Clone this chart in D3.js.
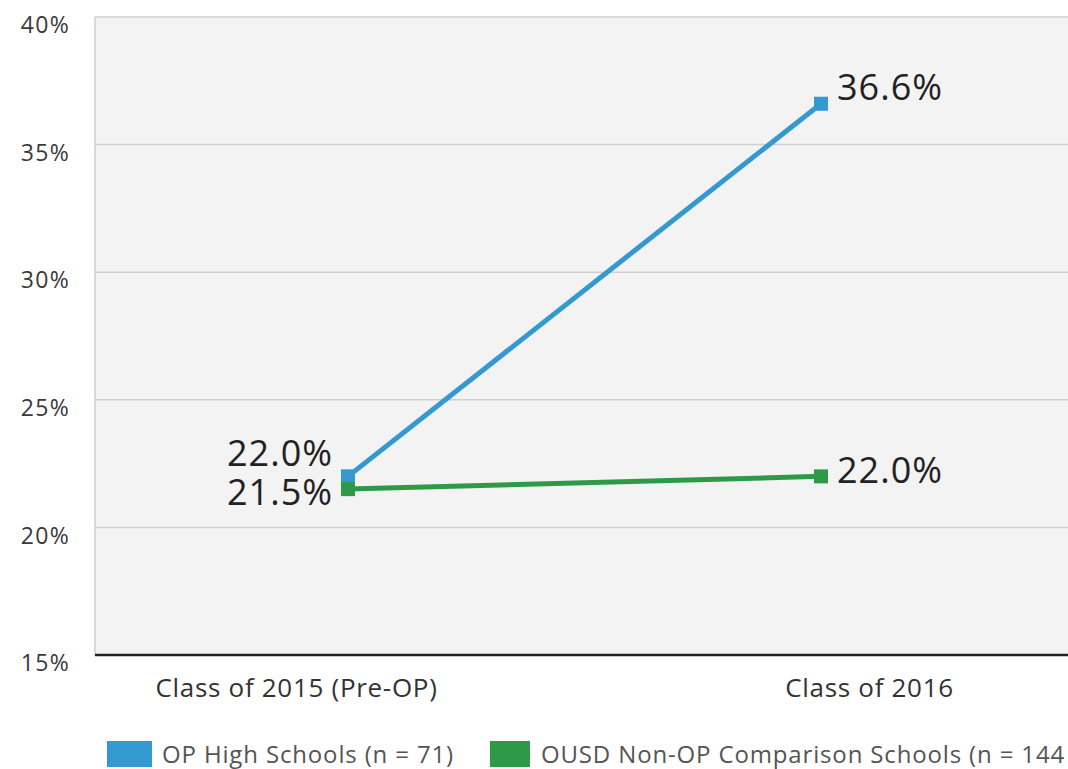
<!DOCTYPE html>
<html><head><meta charset="utf-8">
<script src="https://cdn.jsdelivr.net/npm/d3@7"></script>
<style>body{margin:0;background:#fff;overflow:hidden}svg{display:block}</style>
</head><body>
<svg id="c" width="1068" height="769"></svg>
<script>
const categories = ["Class of 2015 (Pre-OP)", "Class of 2016"];
const seriesNames = ["OP High Schools (n = 71)", "OUSD Non-OP Comparison Schools (n = 144"];
const opValues = [22.0, 36.6];
const nonOpValues = [21.5, 22.0];
const yTicks = [15, 20, 25, 30, 35, 40];
const colors = ["#3399d0", "#2e9a48"];

const svg = d3.select("#c");
const L = 95, R = 1068, T = 17, B = 655;
const y = d3.scaleLinear().domain([15, 40]).range([B, T]);
const x = d3.scalePoint().domain(categories).range([348, 821]);
const xLab = d3.scalePoint().domain(categories).range([296, 869]);
const FONT = "Open Sans, sans-serif";

svg.append("rect").attr("x", L).attr("y", T).attr("width", R - L).attr("height", B - T).attr("fill", "#f3f3f3");
svg.append("g").selectAll("line").data(yTicks.filter(d => d > 15)).join("line")
  .attr("x1", L).attr("x2", R).attr("y1", d => y(d)).attr("y2", d => y(d))
  .attr("stroke", "#cfcfcf").attr("stroke-width", 1.5);
svg.append("line").attr("x1", L).attr("x2", L).attr("y1", T).attr("y2", B).attr("stroke", "#cfcfcf").attr("stroke-width", 1.5);

const yAxis = d3.axisLeft(y).tickValues(yTicks).tickFormat(d => d + "%").tickSize(0).tickPadding(0);
const yg = svg.append("g").attr("transform", `translate(${L},0)`).call(yAxis);
yg.select(".domain").remove();
yg.selectAll("text").attr("x", -25).attr("font-family", FONT).attr("font-size", 23).attr("fill", "#3a3a3a")
  .attr("dy", "0.68em").attr("letter-spacing", "1.3");

svg.append("line").attr("x1", L).attr("x2", R).attr("y1", B).attr("y2", B).attr("stroke", "#222").attr("stroke-width", 2.5);

const xAxis = d3.axisBottom(xLab).tickSize(0).tickPadding(24);
const xg = svg.append("g").attr("transform", `translate(0,${B})`).call(xAxis);
xg.select(".domain").remove();
xg.selectAll("text").attr("font-family", FONT).attr("font-size", 26).attr("fill", "#333").attr("letter-spacing", "0.7");

const series = [opValues, nonOpValues];
const line = d3.line().x((d, i) => x(categories[i])).y(d => y(d));
series.forEach((vals, si) => {
  svg.append("path").datum(vals).attr("d", line).attr("fill", "none")
    .attr("stroke", colors[si]).attr("stroke-width", 5);
});
series.forEach((vals, si) => {
  svg.append("g").selectAll("rect").data(vals).join("rect")
    .attr("x", (d, i) => x(categories[i]) - 7).attr("y", d => y(d) - 7)
    .attr("width", 14).attr("height", 14).attr("fill", colors[si]);
});

const lab = (txt, px, py, anchor) => svg.append("text").text(txt).attr("x", px).attr("y", py)
  .attr("text-anchor", anchor).attr("font-family", FONT).attr("font-size", 36)
  .attr("fill", "#222").attr("letter-spacing", "1");
lab(opValues[0].toFixed(1) + "%", x(categories[0]) - 15, y(opValues[0]) - 10, "end");
lab(nonOpValues[0].toFixed(1) + "%", x(categories[0]) - 15, y(nonOpValues[0]) + 16, "end");
lab(opValues[1].toFixed(1) + "%", x(categories[1]) + 16, y(opValues[1]) - 4, "start");
lab(nonOpValues[1].toFixed(1) + "%", x(categories[1]) + 16, y(nonOpValues[1]) + 7, "start");

const legX = [107, 490];
seriesNames.forEach((n, i) => {
  svg.append("rect").attr("x", legX[i]).attr("y", 741).attr("width", i ? 40 : 45).attr("height", 26).attr("fill", colors[i]);
  svg.append("text").text(n).attr("x", legX[i] + (i ? 51 : 55)).attr("y", 763)
    .attr("font-family", FONT).attr("font-size", 24).attr("fill", "#555").attr("letter-spacing", "0.85");
});
</script>
</body></html>
